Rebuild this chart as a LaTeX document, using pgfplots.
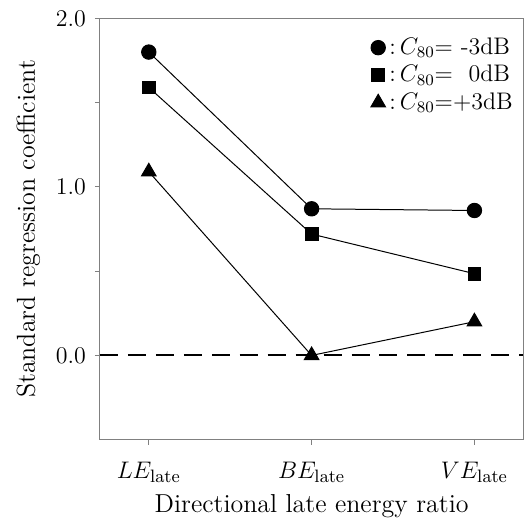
\documentclass[border={4pt 0pt 0.5pt 1pt}]{standalone}
\usepackage{pgfplots}
\pgfplotsset{compat=1.18}
\begin{document}
\fontsize{13}{15}\selectfont
\begin{tikzpicture}
\begin{axis}[
    scale only axis,
    width=212pt, height=211pt,
    xmin=-0.3, xmax=2.3,
    ymin=-0.5, ymax=2.0,
    xtick={0,1,2},
    xticklabels={$LE_{\mathrm{late}}$, $BE_{\mathrm{late}}$, $VE_{\mathrm{late}}$},
    ytick={0,1,2},
    minor ytick={0.5,1.5},
    yticklabel style={/pgf/number format/.cd, fixed, fixed zerofill, precision=1},
    tick align=outside,
    xtick pos=bottom, ytick pos=left,
    major tick length=2.5pt, minor tick length=2.5pt,
    axis line style={gray, line width=0.5pt},
    tick style={gray, line width=0.5pt},
    xticklabel style={yshift=-4pt},
    xlabel={Directional late energy ratio},
    ylabel={Standard regression coefficient},
    xlabel style={yshift=3pt},
    ylabel style={yshift=-1pt},
    legend style={at={(rel axis cs:0.99,0.97)}, anchor=north east, draw=none, fill=none,
        row sep=-0.5pt, cells={anchor=west}, inner sep=1pt, font=\fontsize{12}{14}\selectfont},
    legend image code/.code={\draw[#1] plot[only marks] coordinates {(0.15cm,0cm)};},
]
\addplot[black, dash pattern=on 9pt off 5pt, line width=1pt, forget plot]
    coordinates {(-0.3,0) (2.3,0)};
\addplot[black, line width=0.5pt, mark=*, mark size=3.6pt]
    coordinates {(0,1.80) (1,0.87) (2,0.86)};
\addlegendentry{:\,$C_{80}$= -3dB}
\addplot[black, line width=0.5pt, mark=square*, mark size=3.2pt]
    coordinates {(0,1.59) (1,0.72) (2,0.485)};
\addlegendentry{:\,$C_{80}$= \ 0dB}
\addplot[black, line width=0.5pt, mark=triangle*, mark size=4.2pt]
    coordinates {(0,1.09) (1,0.0) (2,0.20)};
\addlegendentry{:\,$C_{80}$=+3dB}
\end{axis}
\end{tikzpicture}
\end{document}
